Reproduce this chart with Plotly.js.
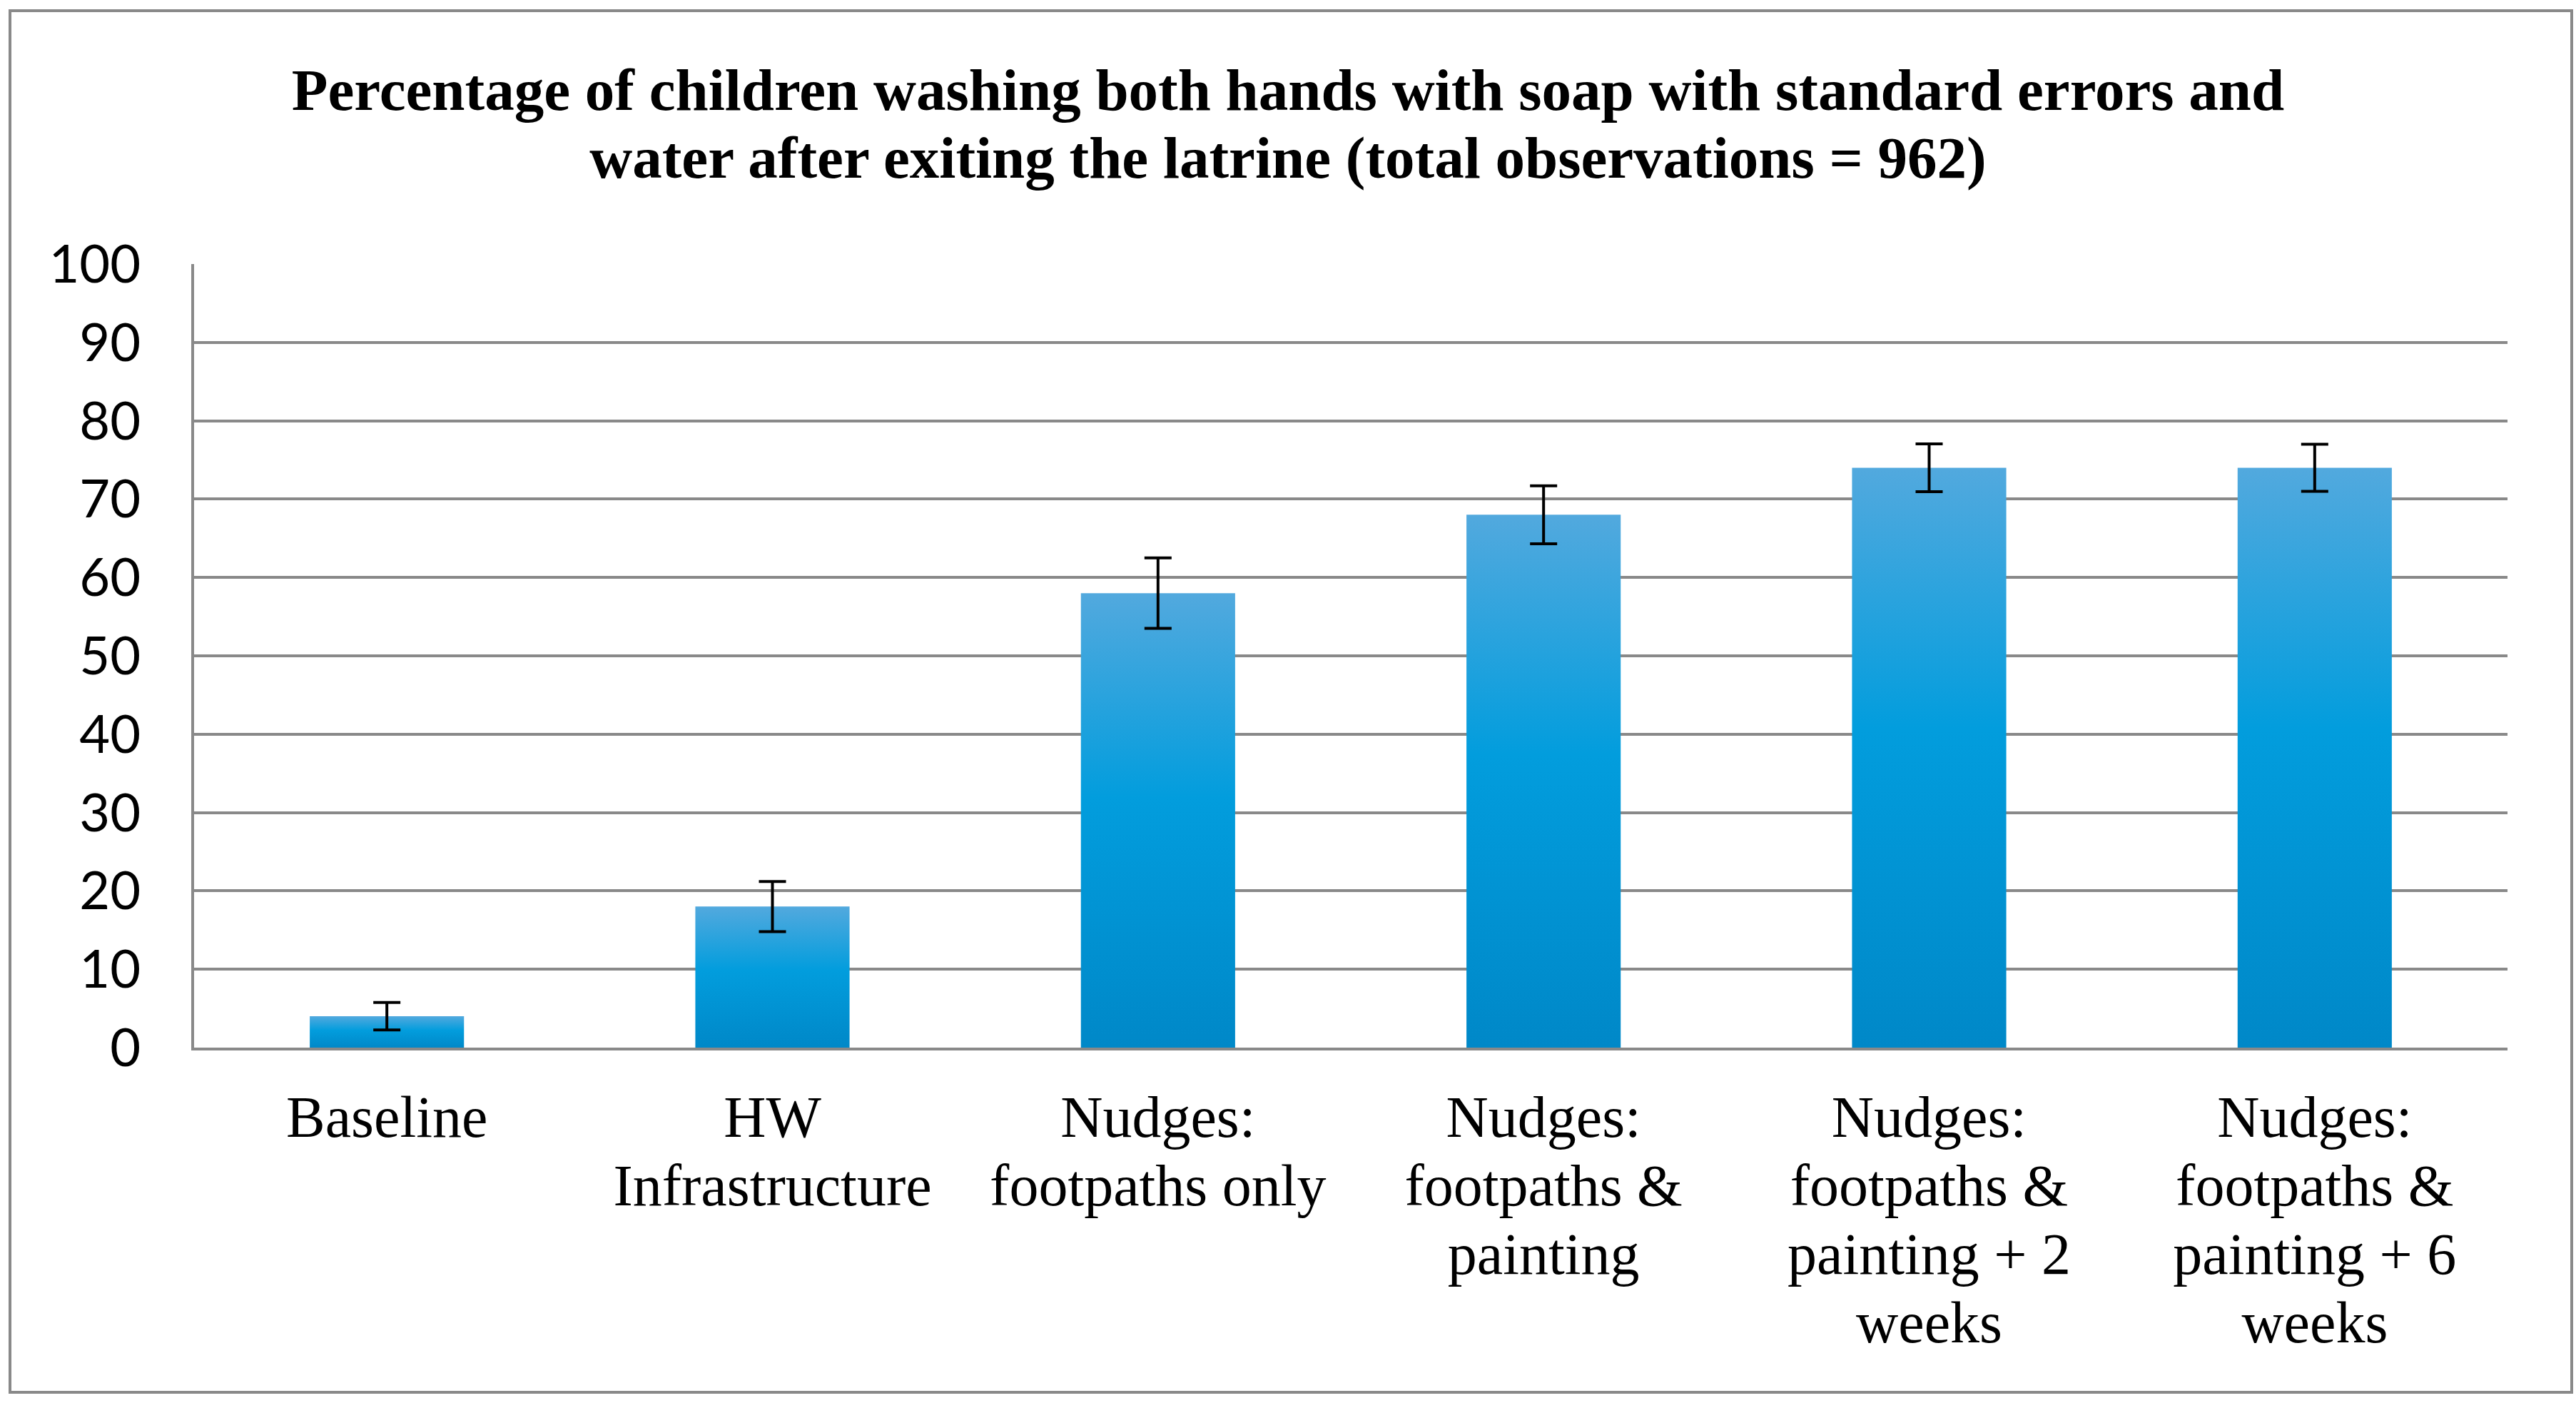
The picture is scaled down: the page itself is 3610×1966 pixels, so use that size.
<!DOCTYPE html>
<html>
<head>
<meta charset="utf-8">
<script src="https://cdn.plot.ly/plotly-3.0.1.min.js"></script>
<style>
html,body{margin:0;padding:0;background:#fff;}
#chart{width:3610px;height:1966px;}
</style>
</head>
<body>
<div id="chart"></div>
<script>
// ---- data ----
const categories = ["Baseline", "HW Infrastructure", "Nudges: footpaths only", "Nudges: footpaths & painting", "Nudges: footpaths & painting + 2 weeks", "Nudges: footpaths & painting + 6 weeks"];
const tickLabels = ["Baseline", "HW<br>Infrastructure", "Nudges:<br>footpaths only", "Nudges:<br>footpaths &<br>painting", "Nudges:<br>footpaths &<br>painting + 2<br>weeks", "Nudges:<br>footpaths &<br>painting + 6<br>weeks"];
const percentages = [4, 18, 58, 68, 74, 74];
const standardErrors = [1.75, 3.2, 4.5, 3.7, 3.05, 3.0];
const yTicks = [0, 10, 20, 30, 40, 50, 60, 70, 80, 90, 100];
const chartTitle = "Percentage of children washing both hands with soap with standard errors and<br>water after exiting the latrine (total observations = 962)";

// ---- layout geometry ----
const W = 3610, H = 1966;
const M = {l: 272, r: 96, t: 370, b: 498};
const plotW = W - M.l - M.r, plotH = H - M.t - M.b;
function px2x(px) { return (px - M.l) / plotW; }
function py2y(py) { return (H - M.b - py) / plotH; }

const trace = {
  type: 'bar',
  x: categories,
  y: percentages,
  marker: {color: '#0A9BDA', line: {width: 0}},
  error_y: {type: 'data', array: standardErrors, visible: true, color: '#000000', thickness: 4, width: 19},
  hoverinfo: 'none'
};

const layout = {
  width: W, height: H,
  margin: M,
  paper_bgcolor: '#ffffff',
  plot_bgcolor: '#ffffff',
  showlegend: false,
  bargap: 0.6,
  title: {
    text: chartTitle,
    font: {family: 'Liberation Serif, Times New Roman, serif', size: 83, color: '#000000', weight: 'bold'},
    x: 0.5, xref: 'container', xanchor: 'center',
    y: 1 - 154 / H, yref: 'container', yanchor: 'top'
  },
  xaxis: {
    type: 'category',
    tickmode: 'array',
    tickvals: categories,
    ticktext: tickLabels,
    tickangle: 0,
    tickfont: {family: 'Liberation Serif, Times New Roman, serif', size: 82, color: '#000000'},
    showline: true, linecolor: '#898989', linewidth: 4,
    showgrid: false, zeroline: false, ticks: '',
    ticklabelstandoff: 23,
    automargin: false, fixedrange: true
  },
  yaxis: {
    range: [0, 100],
    tickmode: 'array',
    tickvals: yTicks,
    ticktext: yTicks.map(String),
    tickfont: {family: 'Lato, Calibri, sans-serif', size: 74, color: '#000000'},
    showline: true, linecolor: '#898989', linewidth: 4,
    showgrid: true, gridcolor: '#898989', gridwidth: 4,
    zeroline: false, ticks: '',
    ticklabelstandoff: 56,
    automargin: false, fixedrange: true
  },
  shapes: [{
    type: 'rect', xref: 'paper', yref: 'paper',
    x0: px2x(14), x1: px2x(3604), y0: py2y(1951), y1: py2y(15),
    line: {color: '#898989', width: 4}, fillcolor: 'rgba(0,0,0,0)', layer: 'below'
  }]
};

Plotly.newPlot('chart', [trace], layout, {staticPlot: true, displayModeBar: false}).then(function(gd) {
  const ns = 'http://www.w3.org/2000/svg';
  const svg = gd.querySelector('svg.main-svg');
  let defs = svg.querySelector('defs');
  if (!defs) { defs = document.createElementNS(ns, 'defs'); svg.insertBefore(defs, svg.firstChild); }
  const grad = document.createElementNS(ns, 'linearGradient');
  grad.setAttribute('id', 'barGrad');
  grad.setAttribute('x1', '0'); grad.setAttribute('y1', '0');
  grad.setAttribute('x2', '0'); grad.setAttribute('y2', '1');
  [['0', '#52A9DE'], ['0.45', '#029DDD'], ['1', '#0088C8']].forEach(function(s) {
    const st = document.createElementNS(ns, 'stop');
    st.setAttribute('offset', s[0]);
    st.setAttribute('stop-color', s[1]);
    grad.appendChild(st);
  });
  defs.appendChild(grad);
  gd.querySelectorAll('.barlayer .point path').forEach(function(p) { p.style.fill = 'url(#barGrad)'; });
  function spacing(sel, em) {
    gd.querySelectorAll(sel).forEach(function(t) {
      t.querySelectorAll('tspan.line').forEach(function(ts, i) { ts.setAttribute('dy', (i * em) + 'em'); });
    });
  }
  spacing('.xtick text', 1.17);
  spacing('.gtitle', 1.15);
});
</script>
</body>
</html>
